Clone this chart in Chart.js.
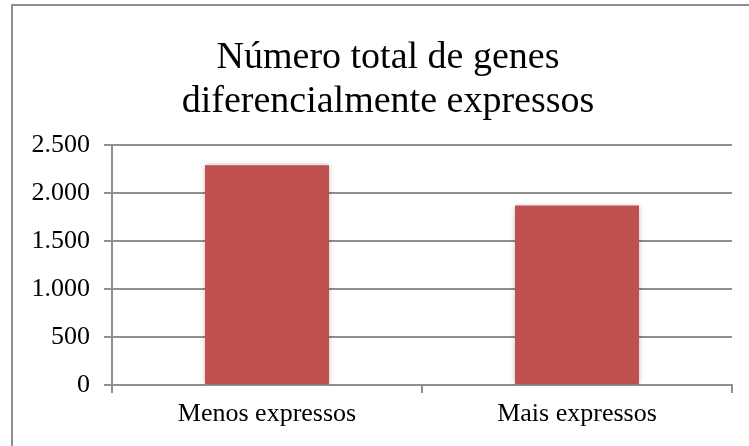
<!DOCTYPE html>
<html>
<head>
<meta charset="utf-8">
<script src="https://cdn.jsdelivr.net/npm/chart.js@4"></script>
<style>
  html, body { margin: 0; padding: 0; background: #fff; overflow: hidden; }
  #wrap { position: relative; width: 749px; height: 446px; }
  #frame { position: absolute; left: 11px; top: 4px; width: 800px; height: 500px;
           border: 2px solid #8f8f8f; box-sizing: border-box; pointer-events: none; }
</style>
</head>
<body>
<div id="wrap">
  <canvas id="chart" width="749" height="446"></canvas>
  <div id="frame"></div>
</div>
<script>
const categories = ["Menos expressos", "Mais expressos"];
const geneCounts = [2290, 1870];
const titleLines = ["Número total de genes", "diferencialmente expressos"];
const yMax = 2500;
const yStep = 500;

const serif = "'Liberation Serif', 'Times New Roman', serif";
const axisGray = "#8f8f8f";

// pontos de milhar no formato pt-BR
function fmt(v) {
  return String(v).replace(/\B(?=(\d{3})+(?!\d))/g, ".");
}

// sombra leve nas barras
const barShadow = {
  id: "barShadow",
  beforeDatasetsDraw(chart) {
    const c = chart.ctx;
    c.save();
    c.shadowColor = "rgba(0,0,0,0.28)";
    c.shadowBlur = 5;
    c.shadowOffsetX = 0;
    c.shadowOffsetY = 0;
  },
  afterDatasetsDraw(chart) {
    chart.ctx.restore();
  }
};

// título centrado na moldura, não no canvas
const titleShift = {
  id: "titleShift",
  afterLayout(chart) {
    if (chart.titleBlock) chart.titleBlock.left = 44;
  }
};

new Chart(document.getElementById("chart").getContext("2d"), {
  type: "bar",
  data: {
    labels: categories,
    datasets: [{
      data: geneCounts,
      backgroundColor: "#C0504D",
      barPercentage: 0.4,
      categoryPercentage: 1.0
    }]
  },
  options: {
    responsive: false,
    animation: false,
    layout: { padding: { left: 0, right: 17, top: 0, bottom: 0 } },
    plugins: {
      legend: { display: false },
      tooltip: { enabled: false },
      title: {
        display: true,
        text: titleLines,
        color: "#000",
        font: { family: serif, size: 38, weight: "normal", lineHeight: 1.16 },
        padding: { top: 36, bottom: 21 }
      }
    },
    scales: {
      x: {
        afterFit: s => { s.height = 61; },
        grid: { drawOnChartArea: false, drawTicks: true, tickLength: 8, color: axisGray, lineWidth: 2 },
        border: { color: axisGray, width: 2 },
        ticks: { color: "#000", padding: 6, font: { family: serif, size: 26 } }
      },
      y: {
        min: 0,
        max: yMax,
        afterFit: s => { s.width = 112; },
        grid: { color: axisGray, lineWidth: 2, tickLength: 8 },
        border: { color: axisGray, width: 2 },
        ticks: {
          stepSize: yStep,
          color: "#000",
          padding: 14,
          font: { family: serif, size: 26 },
          callback: v => fmt(v)
        }
      }
    }
  },
  plugins: [barShadow, titleShift]
});
</script>
</body>
</html>
